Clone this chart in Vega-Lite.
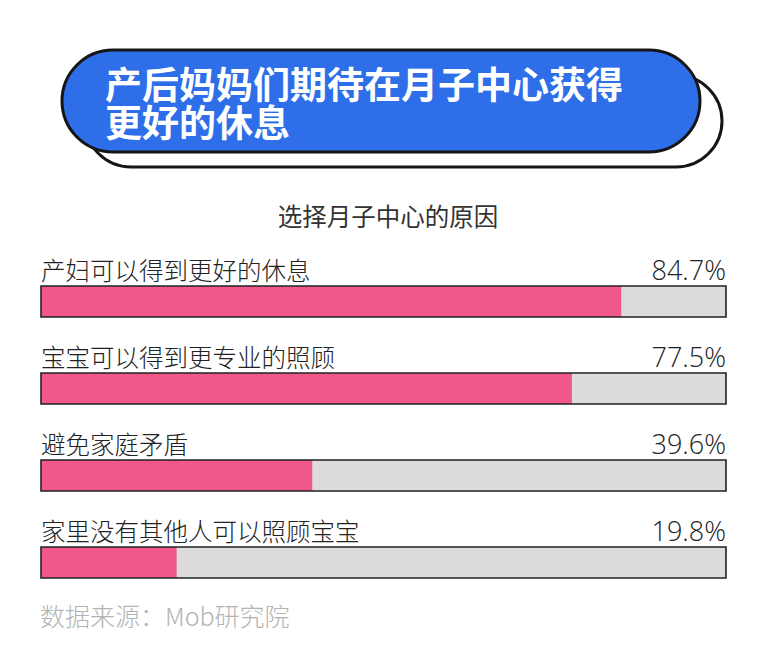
{
  "$schema": "https://vega.github.io/schema/vega-lite/v6.json",
  "autosize": "none",
  "width": 685,
  "height": 348,
  "padding": {"left": 41, "top": 240, "right": 36, "bottom": 79},
  "background": "white",
  "config": {"view": {"stroke": null}},
  "datasets": {
    "reasons": [
      {"reason": "产妇可以得到更好的休息", "pct": 0.847},
      {"reason": "宝宝可以得到更专业的照顾", "pct": 0.775},
      {"reason": "避免家庭矛盾", "pct": 0.396},
      {"reason": "家里没有其他人可以照顾宝宝", "pct": 0.198}
    ],
    "one": [{"k": 1}]
  },
  "layer": [
    {
      "data": {"name": "one"},
      "mark": {"type": "rect", "fill": "white", "stroke": "#151515", "strokeWidth": 3, "cornerRadius": 46},
      "encoding": {"y": {"value": -165}, "y2": {"value": -73}, "x": {"value": 44}, "x2": {"value": 681}}
    },
    {
      "data": {"name": "one"},
      "mark": {"type": "rect", "fill": "#2E6FE9", "stroke": "#151515", "strokeWidth": 3, "cornerRadius": 51},
      "encoding": {"y": {"value": -190}, "y2": {"value": -88}, "x": {"value": 21}, "x2": {"value": 659}}
    },
    {
      "data": {"name": "one"},
      "mark": {"type": "text", "align": "left", "baseline": "alphabetic", "font": "Noto Sans CJK SC", "fontWeight": "bold", "fontSize": 37, "fill": "white"},
      "encoding": {"text": {"value": "产后妈妈们期待在月子中心获得"}, "x": {"value": 64}, "y": {"value": -141}}
    },
    {
      "data": {"name": "one"},
      "mark": {"type": "text", "align": "left", "baseline": "alphabetic", "font": "Noto Sans CJK SC", "fontWeight": "bold", "fontSize": 37, "fill": "white"},
      "encoding": {"text": {"value": "更好的休息"}, "x": {"value": 64}, "y": {"value": -103}}
    },
    {
      "data": {"name": "one"},
      "mark": {"type": "text", "align": "center", "baseline": "alphabetic", "font": "Noto Sans CJK SC", "fontSize": 24.5, "fill": "#333333"},
      "encoding": {"text": {"value": "选择月子中心的原因"}, "x": {"value": 347}, "y": {"value": -14}}
    },
    {
      "data": {"name": "reasons"},
      "encoding": {
        "y": {"field": "reason", "type": "nominal", "sort": null, "axis": null, "scale": {"paddingInner": 0, "paddingOuter": 0}}
      },
      "layer": [
        {
          "mark": {"type": "bar", "fill": "#DCDCDC", "height": 31, "yOffset": 18},
          "encoding": {"x": {"datum": 1, "type": "quantitative", "scale": {"domain": [0, 1], "nice": false}, "axis": null}}
        },
        {
          "mark": {"type": "bar", "fill": "#F0578A", "height": 31, "yOffset": 18},
          "encoding": {"x": {"field": "pct", "type": "quantitative"}}
        },
        {
          "mark": {"type": "bar", "fillOpacity": 0, "stroke": "#222222", "strokeWidth": 1.6, "height": 31, "yOffset": 18},
          "encoding": {"x": {"datum": 1, "type": "quantitative"}}
        },
        {
          "mark": {"type": "text", "align": "left", "baseline": "alphabetic", "yOffset": -4, "font": "Noto Sans CJK SC", "fontWeight": 300, "fontSize": 24.5, "fill": "#222222"},
          "encoding": {"x": {"value": 0}, "text": {"field": "reason"}}
        },
        {
          "mark": {"type": "text", "align": "right", "baseline": "alphabetic", "yOffset": -4, "font": "Open Sans", "fontWeight": 300, "fontSize": 27, "fill": "#222222"},
          "encoding": {"x": {"datum": 1, "type": "quantitative"}, "text": {"field": "pct", "type": "quantitative", "format": ".1%"}}
        }
      ]
    },
    {
      "data": {"name": "one"},
      "mark": {"type": "text", "align": "left", "baseline": "alphabetic", "font": "Noto Sans CJK SC", "fontWeight": 300, "fontSize": 25, "fill": "#B3B3B3"},
      "encoding": {"text": {"value": "数据来源：Mob研究院"}, "x": {"value": -1}, "y": {"value": 386}}
    }
  ]
}
